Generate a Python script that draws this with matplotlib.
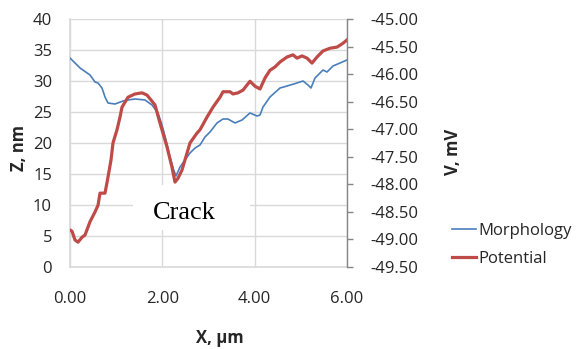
import matplotlib
matplotlib.use("Agg")
import matplotlib.pyplot as plt
from matplotlib.patches import Rectangle

# ---- data ----
x_morph = [0.000, 0.217, 0.433, 0.542, 0.607, 0.693, 0.758, 0.823, 0.975, 1.148,
           1.256, 1.408, 1.625, 1.776, 1.906, 1.993, 2.079, 2.166, 2.231, 2.296,
           2.383, 2.491, 2.599, 2.708, 2.816, 2.924, 3.032, 3.184, 3.314, 3.422,
           3.574, 3.726, 3.899, 4.051, 4.116, 4.181, 4.332, 4.549, 4.700, 4.917,
           5.047, 5.155, 5.220, 5.307, 5.480, 5.567, 5.697, 5.848, 6.000]
z_morph = [33.71, 32.10, 30.97, 29.84, 29.68, 28.87, 27.42, 26.45, 26.29, 26.77,
           26.94, 27.10, 26.94, 26.13, 24.84, 22.90, 20.48, 17.74, 15.97, 14.68,
           16.13, 17.26, 18.39, 19.19, 19.68, 20.97, 21.77, 23.23, 23.87, 23.87,
           23.23, 23.71, 24.84, 24.35, 24.52, 25.81, 27.42, 28.87, 29.19, 29.68,
           30.00, 29.35, 28.87, 30.48, 31.77, 31.45, 32.42, 32.90, 33.39]

x_pot = [0.000, 0.043, 0.108, 0.173, 0.260, 0.325, 0.433, 0.542, 0.607, 0.650,
         0.758, 0.823, 0.888, 0.931, 1.018, 1.083, 1.126, 1.256, 1.408, 1.560,
         1.668, 1.841, 1.950, 2.101, 2.209, 2.274, 2.339, 2.426, 2.599, 2.751,
         2.816, 2.968, 3.097, 3.249, 3.314, 3.466, 3.531, 3.639, 3.747, 3.899,
         4.007, 4.116, 4.224, 4.332, 4.440, 4.549, 4.700, 4.830, 4.917, 5.025,
         5.134, 5.242, 5.350, 5.480, 5.632, 5.784, 5.913, 6.000]
v_pot = [-48.83, -48.85, -49.01, -49.05, -48.96, -48.92, -48.68, -48.50, -48.38, -48.16,
         -48.16, -47.87, -47.56, -47.25, -47.01, -46.78, -46.60, -46.42, -46.36, -46.34,
         -46.38, -46.56, -46.89, -47.32, -47.69, -47.96, -47.89, -47.74, -47.25, -47.07,
         -47.01, -46.78, -46.60, -46.42, -46.32, -46.32, -46.36, -46.34, -46.29, -46.13,
         -46.22, -46.27, -46.07, -45.93, -45.87, -45.78, -45.69, -45.65, -45.71, -45.67,
         -45.71, -45.80, -45.69, -45.58, -45.53, -45.51, -45.44, -45.38]

x_ticks = [0, 2, 4, 6]
x_ticklabels = ["0.00", "2.00", "4.00", "6.00"]
z_ticks = [0, 5, 10, 15, 20, 25, 30, 35, 40]
v_ticks = [-49.5, -49.0, -48.5, -48.0, -47.5, -47.0, -46.5, -46.0, -45.5, -45.0]

# ---- style ----
plt.rcParams['font.family'] = ['Open Sans', 'DejaVu Sans']
FS = 12
BLUE = '#4a7ebb'
RED = '#be4b48'
GRID = '#d9d9d9'
AXC = '#868686'
TXT = '#262626'

W, H = 578, 349
fig = plt.figure(figsize=(W / 100, H / 100), dpi=100)
L, R, T, B = 70, 347, 19, 267
ax = fig.add_axes([L / W, 1 - B / H, (R - L) / W, (B - T) / H])

ax.set_xlim(0, 6)
ax.set_ylim(0, 40)
ax.set_xticks(x_ticks)
ax.set_xticklabels(x_ticklabels)
ax.set_yticks(z_ticks)
ax.set_axisbelow(True)
ax.grid(True, color=GRID, linewidth=1.0)
for s in ['top', 'right']:
    ax.spines[s].set_visible(False)
for s in ['left', 'bottom']:
    ax.spines[s].set_color(GRID)
    ax.spines[s].set_linewidth(1.2)
ax.tick_params(axis='y', length=0, pad=13, labelsize=FS, labelcolor=TXT)
ax.tick_params(axis='x', length=0, pad=17, labelsize=FS, labelcolor=TXT)

# white box behind the "Crack" label
ax.add_patch(Rectangle(((133 - L) / (R - L), (B - 230) / (B - T)),
                       (250 - 133) / (R - L), (230 - 185) / (B - T),
                       transform=ax.transAxes, facecolor='white',
                       edgecolor='none', zorder=1))
ln1, = ax.plot(x_morph, z_morph, color=BLUE, linewidth=1.2, zorder=3,
               label='Morphology')

ax2 = ax.twinx()
ax2.set_ylim(-49.5, -45.0)
ax2.set_yticks(v_ticks)
ax2.set_yticklabels([f"{v:.2f}" for v in v_ticks])
for s in ['top', 'left', 'bottom']:
    ax2.spines[s].set_visible(False)
ax2.spines['right'].set_color(AXC)
ax2.spines['right'].set_linewidth(1.0)
ax2.tick_params(axis='y', length=4, width=1.0, color=AXC, pad=13,
                labelsize=FS, labelcolor=TXT)
ln2, = ax2.plot(x_pot, v_pot, color=RED, linewidth=2.3, zorder=3,
                label='Potential')

ax.text((184 - L) / (R - L), (B - 213) / (B - T), "Crack",
        transform=ax.transAxes, ha='center', va='center',
        fontsize=19, family='Liberation Serif', color='black', zorder=4)

# axis titles
fig.text(220 / W, 1 - 338 / H, "X, µm", ha='center', va='center',
         fontsize=FS, fontweight='bold', color=TXT)
fig.text(19 / W, 1 - 148 / H, "Z, nm", ha='center', va='center',
         rotation=90, fontsize=FS, fontweight='bold', color=TXT)
fig.text(453 / W, 1 - 152 / H, "V, mV", ha='center', va='center',
         rotation=90, fontsize=FS, fontweight='bold', color=TXT)

leg = fig.legend(handles=[ln1, ln2], loc='center left',
                 bbox_to_anchor=(452 / W, 1 - 245 / H), frameon=False,
                 fontsize=FS, handlelength=1.45, handletextpad=0.15,
                 labelspacing=0.75, borderpad=0, borderaxespad=0)
for t in leg.get_texts():
    t.set_color(TXT)

fig.savefig("out.png", dpi=100)
